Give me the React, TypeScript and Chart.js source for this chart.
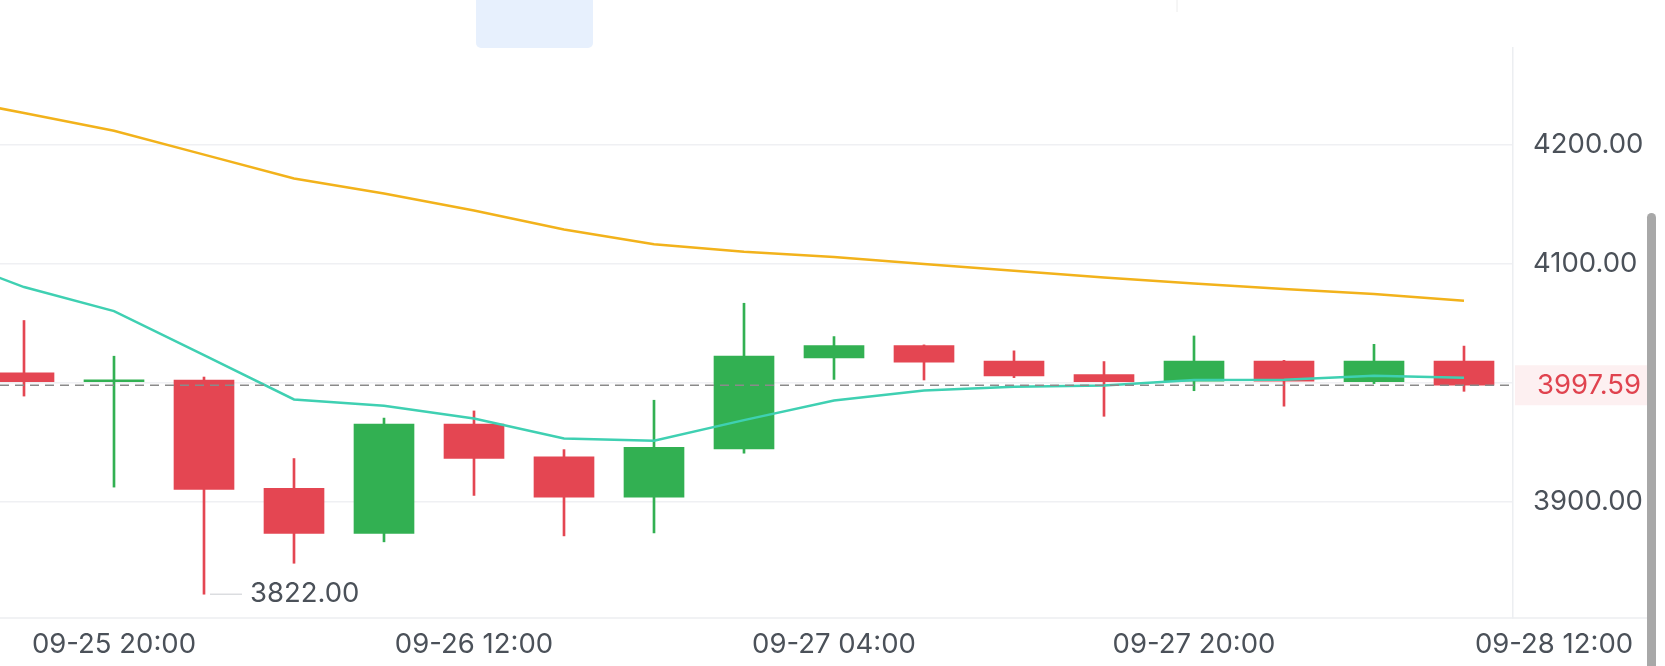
import React, { useEffect, useRef } from 'react';
import { Chart, registerables } from 'chart.js';

Chart.register(...registerables);

// ---- data ----
const candleIndex = [0, 1, 2, 3, 4, 5, 6, 7, 8, 9, 10, 11, 12, 13, 14, 15, 16];
const opens = [4008, 4000.5, 4002, 3911, 3873, 3965, 3937.5, 3903.5, 3944, 4020.5, 4031, 4018, 4006.5, 4001, 4018, 4000.5, 4018];
const closes = [4000.5, 4001.5, 3910, 3873, 3965, 3936, 3903.5, 3945.5, 4022, 4031, 4017, 4005.5, 4000.5, 4018, 4001, 4018, 3997.59];
const highs = [4052, 4022, 4004.5, 3936, 3970, 3976, 3943.5, 3985, 4066.5, 4038.5, 4031.5, 4026.5, 4017.5, 4039, 4018.5, 4032, 4030.5];
const lows = [3988.5, 3912, 3822, 3848, 3866, 3905, 3871, 3873.5, 3940.5, 4002.5, 4002, 4004, 3971.5, 3993, 3980, 3999, 3992.5];

const maIndex = [-1, 0, 1, 2, 3, 4, 5, 6, 7, 8, 9, 10, 11, 12, 13, 14, 15, 16];
const maFast = [4108.7, 4080.1, 4059.9, 4022.9, 3985.7, 3980.3, 3969.7, 3952.9, 3950.9, 3968.3, 3984.7, 3993.1, 3996.3, 3997.3, 4001.9, 4002.2, 4005.5, 4003.9];
const maSlow = [4241.1, 4226.3, 4211.4, 4191.4, 4171.3, 4158.8, 4144.5, 4128.5, 4116.1, 4109.7, 4105.3, 4099.4, 4093.9, 4088.1, 4083.0, 4078.4, 4074.2, 4068.7];

const timeLabels = ['09-25 20:00', '09-26 12:00', '09-27 04:00', '09-27 20:00', '09-28 12:00'];
const timeLabelIndex = [1, 5, 9, 13, 17];

const yTickValues = [3900, 4000, 4100, 4200];
const yTickLabels = ['3900.00', '', '4100.00', '4200.00'];

const lastPrice = 3997.59;
const lastPriceLabel = '3997.59';
const lowMarkIndex = 2;
const lowMarkValue = 3822.0;
const lowMarkLabel = '3822.00';

// ---- style ----
const RED = '#e44652';
const GREEN = '#32b052';
const TEAL = '#3fd0b2';
const YELLOW = '#f2b21b';
const TEXT = '#4b5159';
const GRID = '#eff0f3';
const FONT = 'Inter, Roboto, sans-serif';
const FONT_SIZE = 27.5;

const candleColors = candleIndex.map((i) => (closes[i] >= opens[i] ? GREEN : RED));

export default function App() {
  const ref = useRef<HTMLCanvasElement | null>(null);

  useEffect(() => {
    if (!ref.current) return;

    const overlay = {
      id: 'overlay',
      afterDatasetsDraw(chart: any) {
        const ctx = chart.ctx;
        const y = chart.scales.y;
        const area = chart.chartArea;
        const py = y.getPixelForValue(lastPrice);
        ctx.save();
        ctx.strokeStyle = '#8a8a8a';
        ctx.lineWidth = 1.6;
        ctx.setLineDash([9, 6]);
        ctx.beginPath();
        ctx.moveTo(area.left, py);
        ctx.lineTo(area.right, py);
        ctx.stroke();
        ctx.restore();
      },
      afterDraw(chart: any) {
        const ctx = chart.ctx;
        const x = chart.scales.x;
        const y = chart.scales.y;
        const area = chart.chartArea;
        const W = chart.width;
        const H = chart.height;
        ctx.save();
        // bottom axis line across full width
        ctx.strokeStyle = '#eceef1';
        ctx.lineWidth = 1.5;
        ctx.beginPath();
        ctx.moveTo(0, area.bottom);
        ctx.lineTo(W - 18, area.bottom);
        ctx.stroke();

        // x labels
        ctx.font = `${FONT_SIZE}px ${FONT}`;
        ctx.fillStyle = TEXT;
        ctx.textAlign = 'center';
        ctx.textBaseline = 'middle';
        timeLabels.forEach((t, k) => {
          const px = x.getPixelForValue(timeLabelIndex[k]);
          ctx.fillText(t, px, area.bottom + 27);
        });

        // low marker
        const lx = x.getPixelForValue(lowMarkIndex);
        const ly = y.getPixelForValue(lowMarkValue);
        ctx.strokeStyle = '#d3d5d9';
        ctx.lineWidth = 1.2;
        ctx.beginPath();
        ctx.moveTo(lx + 6, ly);
        ctx.lineTo(lx + 38, ly);
        ctx.stroke();
        ctx.fillStyle = TEXT;
        ctx.textAlign = 'left';
        ctx.fillText(lowMarkLabel, lx + 46, ly);

        // last price box
        const py = y.getPixelForValue(lastPrice);
        ctx.fillStyle = '#fdf0f1';
        ctx.fillRect(area.right + 2, py - 20, 140, 40);
        ctx.fillStyle = '#e0434f';
        ctx.textAlign = 'center';
        ctx.fillText(lastPriceLabel, area.right + 76, py);

        // top blue tab
        ctx.fillStyle = '#e7f0fd';
        ctx.beginPath();
        (ctx as any).roundRect(476, -6, 117, 54, 5);
        ctx.fill();
        // faint top mark
        ctx.strokeStyle = '#ececec';
        ctx.lineWidth = 1;
        ctx.beginPath();
        ctx.moveTo(1177, 0);
        ctx.lineTo(1177, 12);
        ctx.stroke();

        // scrollbar
        ctx.fillStyle = '#a8a8a8';
        ctx.beginPath();
        (ctx as any).roundRect(1647, 213, 9, H - 213 + 10, 4.5);
        ctx.fill();
        ctx.restore();
      },
    };

    const chart = new Chart(ref.current, {
      type: 'bar',
      data: {
        datasets: [
          {
            type: 'line',
            label: 'MA slow',
            data: maIndex.map((i, k) => ({ x: i, y: maSlow[k] })),
            borderColor: YELLOW,
            borderWidth: 2.5,
            pointRadius: 0,
            tension: 0,
            order: 0,
          } as any,
          {
            type: 'line',
            label: 'MA fast',
            data: maIndex.map((i, k) => ({ x: i, y: maFast[k] })),
            borderColor: TEAL,
            borderWidth: 2.5,
            pointRadius: 0,
            tension: 0,
            order: 0,
          } as any,
          {
            type: 'bar',
            label: 'wick',
            data: candleIndex.map((i) => ({ x: i, y: [lows[i], highs[i]] })),
            backgroundColor: candleColors,
            barThickness: 2,
            grouped: false,
            order: 3,
          } as any,
          {
            type: 'bar',
            label: 'body',
            data: candleIndex.map((i) => ({ x: i, y: [opens[i], closes[i]] })),
            backgroundColor: candleColors,
            barThickness: 60,
            minBarLength: 2,
            grouped: false,
            order: 2,
          } as any,
        ],
      },
      options: {
        animation: false,
        responsive: false,
        devicePixelRatio: 1,
        layout: { padding: { top: 48, left: 0, right: 0, bottom: 0 } },
        plugins: { legend: { display: false }, tooltip: { enabled: false } },
        scales: {
          x: {
            type: 'linear',
            min: -24 / 90,
            max: -24 / 90 + 1513 / 90,
            offset: false,
            grid: { display: false },
            border: { display: false },
            ticks: { display: false },
            afterFit: (s: any) => {
              s.height = 48;
            },
          },
          y: {
            position: 'right',
            min: 3802,
            max: 4281,
            afterBuildTicks: (s: any) => {
              s.ticks = yTickValues.map((v) => ({ value: v }));
            },
            afterFit: (s: any) => {
              s.width = 152;
            },
            grid: { color: GRID, lineWidth: 1.5, drawTicks: false },
            border: { display: true, color: '#eceef1', width: 1.5 },
            ticks: {
              padding: 20,
              crossAlign: 'near',
              color: TEXT,
              font: { family: FONT, size: FONT_SIZE },
              callback: (v: any) => {
                const k = yTickValues.indexOf(Number(v));
                return k >= 0 ? yTickLabels[k] : '';
              },
            },
          },
        },
      } as any,
      plugins: [overlay],
    });

    return () => chart.destroy();
  }, []);

  return (
    <div style={{ position: 'absolute', left: 0, top: 0, width: 1665, height: 666, background: '#fff' }}>
      <canvas ref={ref} width={1665} height={666} style={{ width: 1665, height: 666, display: 'block' }} />
    </div>
  );
}
